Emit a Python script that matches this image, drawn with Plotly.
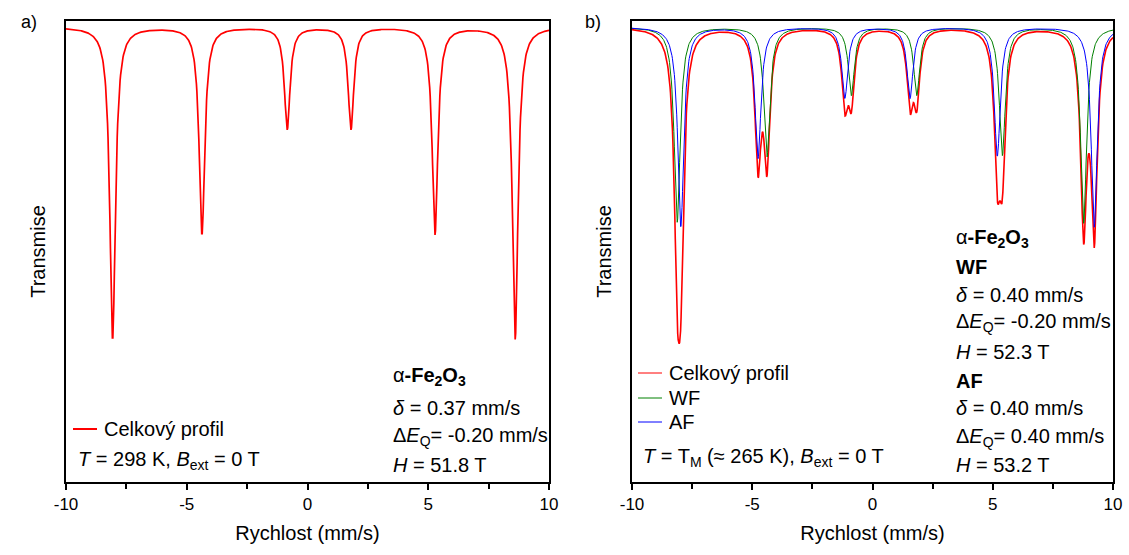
import numpy as np
import plotly.graph_objects as go

# ---------------- data ----------------
# Velocity grid of the spectrometer (mm/s)
velocity = np.arange(-10.0, 10.0001, 0.02)

# Panel a: alpha-Fe2O3 at 298 K, one sextet
a_positions = [-8.07, -4.37, -0.84, 1.80, 5.28, 8.60]          # mm/s
a_depths = [0.0312, 0.0207, 0.0102, 0.0102, 0.0207, 0.0312]     # relative absorption
a_width = 0.28                                                  # FWHM mm/s

# Panel b: two sextets at T_M (WF and AF)
wf_positions = [-8.12, -4.39, -0.88, 1.84, 5.40, 8.78]
wf_depths = [0.0195, 0.0130, 0.0068, 0.0068, 0.0128, 0.0196]
af_positions = [-7.97, -4.76, -1.15, 1.56, 5.19, 9.22]
af_depths = [0.0200, 0.0131, 0.0071, 0.0071, 0.0129, 0.0200]
b_width = 0.30

x_ticks = [-10, -5, 0, 5, 10]
x_tick_labels = ["-10", "-5", "0", "5", "10"]

series_names_b = ["Celkový profil", "WF", "AF"]
series_colors_b = ["#FF0000", "#008000", "#0000FF"]

# ---------------- build curves ----------------
def absorption(x, positions, depths, width):
    total = np.zeros_like(x)
    for c, d in zip(positions, depths):
        total += d / (1.0 + ((x - c) / (width / 2.0)) ** 2)
    return total

trans_a = 1.0 - absorption(velocity, a_positions, a_depths, a_width)
abs_wf = absorption(velocity, wf_positions, wf_depths, b_width)
abs_af = absorption(velocity, af_positions, af_depths, b_width)
trans_wf = 1.0 - abs_wf
trans_af = 1.0 - abs_af
trans_b = 1.0 - abs_wf - abs_af

FONT = "Arial, Liberation Sans, sans-serif"
W, H = 1129, 555

fig = go.Figure()
fig.add_trace(go.Scatter(x=velocity, y=trans_a, mode="lines", name="Celkový profil",
                         line=dict(color="#FF0000", width=1.7),
                         xaxis="x", yaxis="y", showlegend=False))
b_curves = [trans_b, trans_wf, trans_af]
b_widths = [1.6, 1.0, 1.0]
for name, col, yv, lw in zip(series_names_b, series_colors_b, b_curves, b_widths):
    fig.add_trace(go.Scatter(x=velocity, y=yv, mode="lines", name=name,
                             line=dict(color=col, width=lw),
                             xaxis="x2", yaxis="y2", showlegend=False))

def px_x(p):
    return p / W

def px_y(p):
    return 1 - p / H

y_top, y_bot = 21, 482
k = 1e-4
y_range = [1 - (y_bot - 27) * k, 1 + (27 - y_top) * k]

xaxis_common = dict(
    range=[-10, 10], tickvals=x_ticks, ticktext=x_tick_labels,
    ticks="outside", ticklen=6, tickwidth=2, tickcolor="black",
    minor=dict(dtick=2.5, tick0=-10, ticks="outside", ticklen=5, tickwidth=2, tickcolor="black"),
    showline=True, linewidth=2, linecolor="black", mirror=True,
    showgrid=False, zeroline=False, automargin=False,
    tickfont=dict(family=FONT, size=17, color="black"),
    title=dict(text="Rychlost (mm/s)", font=dict(family=FONT, size=20, color="black"), standoff=13),
)
yaxis_common = dict(
    range=y_range, showticklabels=False, ticks="",
    showline=True, linewidth=2, linecolor="black", mirror=True,
    showgrid=False, zeroline=False, automargin=False,
    title=dict(text="Transmise", font=dict(family=FONT, size=20, color="black"), standoff=13),
)

fig.update_layout(
    width=W, height=H,
    margin=dict(l=0, r=0, t=0, b=0),
    paper_bgcolor="white", plot_bgcolor="white",
    font=dict(family=FONT, size=20, color="black"),
    xaxis=dict(domain=[px_x(66), px_x(549)], anchor="y", **xaxis_common),
    yaxis=dict(domain=[px_y(y_bot), px_y(y_top)], anchor="x", **yaxis_common),
    xaxis2=dict(domain=[px_x(632), px_x(1113)], anchor="y2", **xaxis_common),
    yaxis2=dict(domain=[px_y(y_bot), px_y(y_top)], anchor="x2", **yaxis_common),
    showlegend=False,
)

def note(x, y, text, size=20, xanchor="left"):
    fig.add_annotation(x=px_x(x), y=px_y(y), xref="paper", yref="paper", text=text,
                       showarrow=False, xanchor=xanchor, yanchor="middle",
                       font=dict(family=FONT, size=size, color="black"))

def legend_line(x0, x1, y, color, width):
    fig.add_shape(type="line", xref="paper", yref="paper",
                  x0=px_x(x0), x1=px_x(x1), y0=px_y(y), y1=px_y(y),
                  line=dict(color=color, width=width))

note(19, 22, "a)", size=18)
note(583, 22, "b)", size=18)

# panel a legend + texts
legend_line(73, 97, 429, "#FF0000", 2)
note(102, 429, "Celkový profil")
note(76, 460, "<i>T</i> = 298 K, <i>B</i><sub>ext</sub> = 0 T")
note(391, 377, "α<b>-Fe<sub>2</sub>O<sub>3</sub></b>")
note(391, 408, "<i>δ</i> = 0.37 mm/s")
note(391, 436, "Δ<i>E</i><sub>Q</sub>= -0.20 mm/s")
note(391, 465, "<i>H</i> = 51.8 T")

# panel b legend + texts
for name, col, yy in zip(series_names_b, series_colors_b, [373, 398, 422]):
    legend_line(638, 662, yy, col, 1)
    note(667, yy, name)
note(641, 457, "<i>T</i> = T<sub>M</sub> (≈ 265 K), <i>B</i><sub>ext</sub> = 0 T")
note(954, 238, "α<b>-Fe<sub>2</sub>O<sub>3</sub></b>")
note(954, 267, "<b>WF</b>")
note(954, 295, "<i>δ</i> = 0.40 mm/s")
note(954, 322, "Δ<i>E</i><sub>Q</sub>= -0.20 mm/s")
note(954, 352, "<i>H</i> = 52.3 T")
note(954, 381, "<b>AF</b>")
note(954, 408, "<i>δ</i> = 0.40 mm/s")
note(954, 437, "Δ<i>E</i><sub>Q</sub>= 0.40 mm/s")
note(954, 465, "<i>H</i> = 53.2 T")

fig.write_html("out.html")
